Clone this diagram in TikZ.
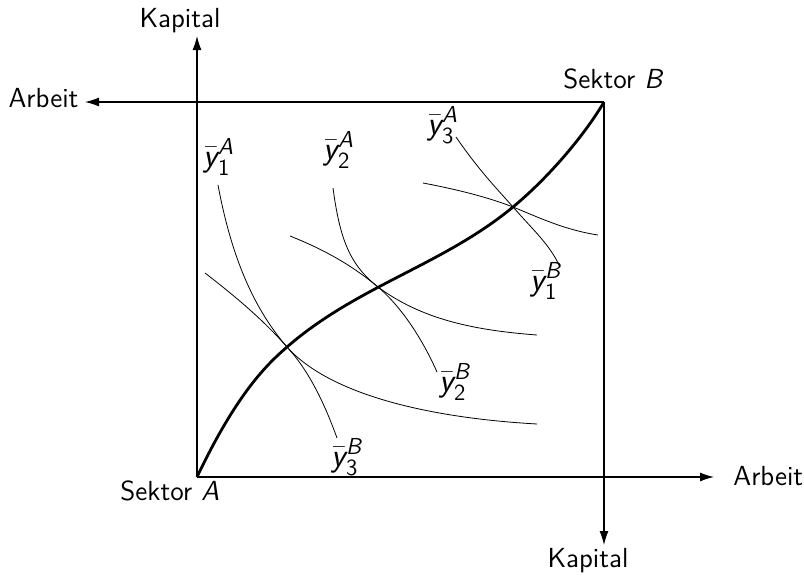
\documentclass[tikz,border=0pt]{standalone}
\usepackage{amsmath}
\usetikzlibrary{arrows.meta}
\newcommand{\ylab}[2]{$\bar{\text{\itshape y}}^{\text{\itshape #2}}_{\text{#1}}$}
\begin{document}
\begin{tikzpicture}[x=0.5pt,y=-0.5pt,
  every node/.style={font=\fontsize{13.8}{16}\selectfont\sffamily, inner sep=0pt},
  ylabel/.style={font=\fontsize{16.5}{19}\selectfont\sffamily},
  axis/.style={line width=0.6pt, -{Latex[length=7pt,width=4.5pt]}},
  iso/.style={line width=0.4pt},
  contract/.style={line width=1.4pt}]
\useasboundingbox (0,0) rectangle (804,578);
\coordinate (A) at (197,477);
\coordinate (B) at (604,102);
\coordinate (Aup) at (197,36);
\coordinate (Aright) at (714,477);
\coordinate (Bleft) at (85,102);
\coordinate (Bdown) at (604,545);
\coordinate (E1) at (287,347);
\coordinate (E2) at (378,287);
\coordinate (E3) at (513,207);
% axes
\draw[axis] (A) -- (Aup);
\draw[axis] (A) -- (Aright);
\draw[axis] (B) -- (Bleft);
\draw[axis] (B) -- (Bdown);
% axis labels
\node[anchor=base] (kapA) at (180,27) {Kapital};
\node[anchor=base west] (arbA) at (733,485) {Arbeit};
\node[anchor=base] (arbB) at (43.5,107) {Arbeit};
\node[anchor=base] (kapB) at (588,567) {Kapital};
\node[anchor=base west] (sekA) at (120,500) {Sektor \textit{A}};
\node[anchor=base west] (sekB) at (563,88) {Sektor \textit{B}};
% contract curve
\draw[contract] (A) .. controls (237,393) and (267,364.4) .. (E1)
  .. controls (357,286) and (443,265) .. (E3)
  .. controls (548,178) and (584,136) .. (B);
% isoquants A
\draw[iso] (218,185) .. controls (232,260) and (255,310) .. (E1)
  .. controls (330,395) and (430,418) .. (537,424);
\draw[iso] (333,188) .. controls (340,240) and (350,265) .. (E2)
  .. controls (420,318) and (470,330) .. (537,335);
\draw[iso] (456,137) .. controls (480,172) and (500,192) .. (E3)
  .. controls (535,232) and (550,245) .. (560,267);
% isoquants B
\draw[iso] (423,183) .. controls (460,190) and (490,198) .. (E3)
  .. controls (540,218) and (565,230) .. (598,235);
\draw[iso] (290,236) .. controls (330,252) and (355,268) .. (E2)
  .. controls (405,310) and (425,345) .. (437,372);
\draw[iso] (205,273) .. controls (240,300) and (265,322) .. (E1)
  .. controls (310,372) and (325,405) .. (337,438);
% isoquant labels
\node[ylabel] (y1A) at (219,157) {\ylab{1}{A}};
\node[ylabel] (y2A) at (339,150) {\ylab{2}{A}};
\node[ylabel] (y3A) at (443,125) {\ylab{3}{A}};
\node[ylabel] (y1B) at (546,281) {\ylab{1}{B}};
\node[ylabel] (y2B) at (455,382) {\ylab{2}{B}};
\node[ylabel] (y3B) at (347,457) {\ylab{3}{B}};
\end{tikzpicture}
\end{document}
